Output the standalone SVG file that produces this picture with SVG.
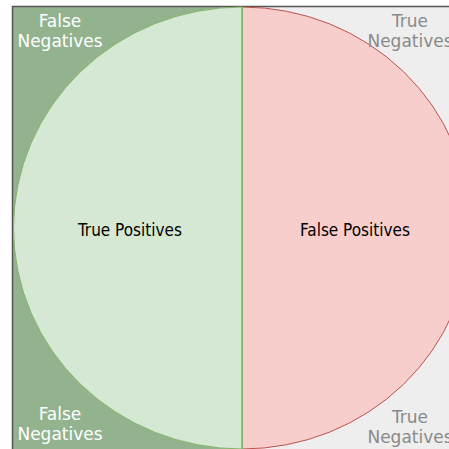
<svg xmlns="http://www.w3.org/2000/svg" width="449" height="449" viewBox="0 0 449 449">
  <style>
    .lbl { font-family: "DejaVu Sans Condensed", "DejaVu Sans", Verdana, sans-serif; font-stretch: condensed; font-size: 17px; text-anchor: middle; }
    .corner { font-family: "DejaVu Sans", Verdana, sans-serif; font-stretch: normal; font-size: 17px; }
    .fn { fill: #ffffff; }
    .tn { fill: #8a8a8a; }
    .in { fill: #000000; }
  </style>
  <defs>
    <clipPath id="leftHalf"><rect x="0" y="0" width="242" height="449"/></clipPath>
    <clipPath id="rightHalf"><rect x="242" y="0" width="300" height="449"/></clipPath>
  </defs>
  <rect x="0" y="0" width="449" height="449" fill="#ffffff"/>
  <!-- background regions: actual negatives / positives -->
  <g id="regions">
    <rect x="12" y="6" width="230" height="450" fill="#93b38f"/>
    <rect x="242" y="6" width="220" height="450" fill="#eeeeee"/>
    <path d="M12.5 460 V6.5 H449" fill="none" stroke="#555555" stroke-width="1.5"/>
  </g>
  <!-- selected elements: split ellipse -->
  <g id="true-positives">
    <ellipse cx="242" cy="228" rx="228.5" ry="221" fill="#d5e8d4" stroke="#82b366" stroke-width="1" clip-path="url(#leftHalf)"/>
    <line x1="242" y1="7" x2="242" y2="449" stroke="#82b366" stroke-width="1.5"/>
    <text class="lbl in" x="130" y="236">True Positives</text>
  </g>
  <g id="false-positives">
    <ellipse cx="242" cy="228" rx="228.5" ry="221" fill="#f8cecc" stroke="#b85450" stroke-width="1" clip-path="url(#rightHalf)"/>
    <line x1="242.5" y1="7" x2="242.5" y2="449" stroke="#82b366" stroke-width="1"/>
    <text class="lbl in" x="355" y="236">False Positives</text>
  </g>
  <g id="false-negatives">
    <text class="lbl corner fn" x="60" y="27">False</text>
    <text class="lbl corner fn" x="60" y="47">Negatives</text>
    <text class="lbl corner fn" x="60" y="420">False</text>
    <text class="lbl corner fn" x="60" y="440">Negatives</text>
  </g>
  <g id="true-negatives">
    <text class="lbl corner tn" x="410" y="27">True</text>
    <text class="lbl corner tn" x="410" y="47">Negatives</text>
    <text class="lbl corner tn" x="410" y="423">True</text>
    <text class="lbl corner tn" x="410" y="443">Negatives</text>
  </g>
</svg>
